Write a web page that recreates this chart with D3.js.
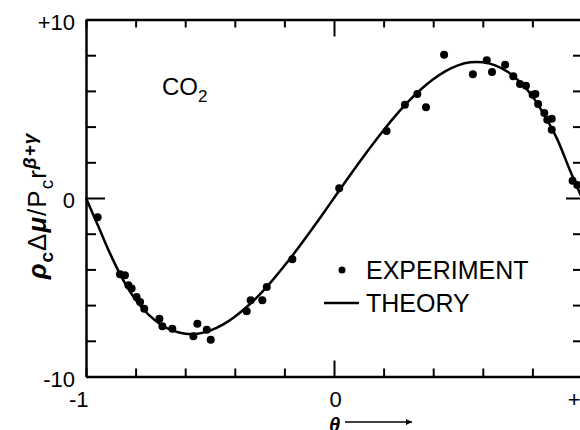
<!DOCTYPE html>
<meta charset="utf-8">
<style>
body { margin: 0; background: #fff; }
text { font-family: "Liberation Sans", Arial, sans-serif; fill: #000; }
.axis path, .axis line { stroke: #000; stroke-width: 2.5px; }
.axis line { stroke-width: 2px; }
.axis text { font-size: 22px; }
.theory { fill: none; stroke: #000; stroke-width: 2.5px; }
</style>
<svg width="580" height="430"></svg>
<script src="https://d3js.org/d3.v7.min.js"></script>
<script>
// experiment points (theta, value)
var expTheta = [-0.953, -0.863, -0.843, -0.829, -0.816, -0.796, -0.782, -0.765, -0.704, -0.692,
  -0.652, -0.567, -0.551, -0.513, -0.497, -0.352, -0.336, -0.289, -0.271, -0.168,
  0.021, 0.212, 0.286, 0.336, 0.371, 0.444, 0.560, 0.616, 0.637, 0.690,
  0.723, 0.750, 0.774, 0.801, 0.812, 0.823, 0.848, 0.860, 0.878, 0.878, 0.962, 0.981];
var expValue = [-1.08, -4.27, -4.33, -4.89, -5.07, -5.54, -5.82, -6.2, -6.76, -7.19,
  -7.32, -7.75, -7.04, -7.38, -7.94, -6.35, -5.73, -5.73, -4.98, -3.43,
  0.54, 3.76, 5.22, 5.83, 5.09, 8.03, 6.93, 7.72, 7.06, 7.47,
  6.82, 6.39, 6.29, 5.79, 5.83, 5.26, 4.76, 4.38, 4.44, 3.82, 0.97, 0.73];

// theory curve
var theoryTheta = [-1, -0.95, -0.9, -0.85, -0.8, -0.75, -0.7, -0.65, -0.6, -0.55, -0.5, -0.45, -0.4,
  -0.35, -0.3, -0.25, -0.2, -0.15, -0.1, -0.05, 0, 0.05, 0.1, 0.15, 0.2, 0.25, 0.3, 0.35, 0.4,
  0.45, 0.5, 0.55, 0.6, 0.65, 0.7, 0.75, 0.8, 0.85, 0.9, 0.95, 1];
var theoryValue = [0, -1.6, -3.2, -4.6, -5.7, -6.5, -7.07, -7.43, -7.6, -7.6, -7.43, -7.11, -6.65,
  -6.08, -5.41, -4.64, -3.8, -2.9, -1.96, -0.99, 0, 0.99, 1.96, 2.9, 3.8, 4.64, 5.41, 6.08, 6.65,
  7.11, 7.43, 7.6, 7.6, 7.43, 7.07, 6.5, 5.7, 4.6, 3.3, 1.6, 0];

var xTicks = [-1, -0.8, -0.6, -0.4, -0.2, 0, 0.2, 0.4, 0.6, 0.8, 1];
var xLabels = {"-1": "-1", "0": "0", "1": "+1"};
var yTicks = [-10, -8, -6, -4, -2, 0, 2, 4, 6, 8, 10];
var yLabels = {"-10": "-10", "0": "0", "10": "+10"};

var svg = d3.select("svg");
var x = d3.scaleLinear().domain([-1, 1]).range([86, 582]),
    y = d3.scaleLinear().domain([-10, 10]).range([376.5, 19.5]);

function fmt(map) { return function(d) { return map[String(d)] || ""; }; }
function longZero(g, len, attr) {
  g.selectAll(".tick").filter(function(d) { return d === 0; })
    .select("line").attr(attr, len);
}

var gb = svg.append("g").attr("class", "axis")
    .attr("transform", "translate(0," + y(-10) + ")")
    .call(d3.axisBottom(x).tickValues(xTicks).tickSizeInner(-8).tickSizeOuter(0)
      .tickPadding(14).tickFormat(fmt(xLabels)));
longZero(gb, -16, "y2");
gb.selectAll("text").attr("dy", "0.75em")
  .attr("dx", function(d) { return d < 0 ? "-0.35em" : (d > 0 ? "-0.1em" : "0.05em"); });

var gt = svg.append("g").attr("class", "axis")
    .attr("transform", "translate(0," + y(10) + ")")
    .call(d3.axisTop(x).tickValues(xTicks).tickSizeInner(-8).tickSizeOuter(0).tickFormat(""));
longZero(gt, 17, "y2");

var gl = svg.append("g").attr("class", "axis")
    .attr("transform", "translate(" + x(-1) + ",0)")
    .call(d3.axisLeft(y).tickValues(yTicks).tickSizeInner(-10).tickSizeOuter(0)
      .tickPadding(11).tickFormat(fmt(yLabels)));
longZero(gl, 19, "x2");
gl.selectAll("text").attr("dy", "0.45em");

var gr = svg.append("g").attr("class", "axis")
    .attr("transform", "translate(" + x(1) + ",0)")
    .call(d3.axisRight(y).tickValues(yTicks).tickSizeInner(-9).tickSizeOuter(0).tickFormat(""));
longZero(gr, -16, "x2");

svg.selectAll(".axis .domain").attr("stroke-width", 2.5);

// theory line
var line = d3.line()
    .curve(d3.curveCatmullRom)
    .x(function(d, i) { return x(theoryTheta[i]); })
    .y(function(d) { return y(d); });
svg.append("path").attr("class", "theory").attr("d", line(theoryValue));

// experiment dots
svg.selectAll(".dot")
  .data(expValue)
  .enter().append("circle")
    .attr("class", "dot")
    .attr("cx", function(d, i) { return x(expTheta[i]); })
    .attr("cy", function(d) { return y(d); })
    .attr("r", 4)
    .attr("fill", "#000");

// CO2 label
var co2 = svg.append("text").attr("x", 162).attr("y", 95).style("font-size", "24px");
co2.append("tspan").text("CO");
co2.append("tspan").attr("dy", 7).style("font-size", "17px").text("2");

// legend
var leg = svg.append("g");
leg.append("circle").attr("cx", 342).attr("cy", 270).attr("r", 3.5).attr("fill", "#000");
leg.append("text").attr("x", 366).attr("y", 279).style("font-size", "25px").text("EXPERIMENT");
leg.append("line").attr("x1", 324).attr("x2", 359).attr("y1", 303).attr("y2", 303)
  .attr("stroke", "#000").attr("stroke-width", 2.5);
leg.append("text").attr("x", 366).attr("y", 312).style("font-size", "25px").text("THEORY");

// y axis label
var yl = svg.append("text")
    .attr("transform", "translate(46,206) rotate(-90)")
    .attr("text-anchor", "middle")
    .style("font-size", "26px")
    .style("letter-spacing", "1px");
yl.append("tspan").style("font-weight", "bold").style("font-style", "italic").text("ρ");
yl.append("tspan").attr("dy", 7).style("font-size", "19px").style("font-weight", "bold").text("c");
yl.append("tspan").attr("dy", -7).text("Δ");
yl.append("tspan").style("font-weight", "bold").style("font-style", "italic").text("μ");
yl.append("tspan").text("/P");
yl.append("tspan").attr("dy", 7).style("font-size", "19px").text("c");
yl.append("tspan").attr("dy", -7).text("r");
yl.append("tspan").attr("dy", -10).style("font-size", "19px").style("font-style", "italic")
  .style("font-weight", "bold").text("β+γ");

// theta with arrow
svg.append("defs").append("marker")
    .attr("id", "arr").attr("viewBox", "0 0 10 10").attr("refX", 10).attr("refY", 5)
    .attr("markerWidth", 8).attr("markerHeight", 6).attr("orient", "auto")
    .attr("markerUnits", "userSpaceOnUse")
  .append("path").attr("d", "M0,0L10,5L0,10Z").attr("fill", "#000");
svg.append("text").attr("x", 329).attr("y", 432).style("font-size", "20px")
  .style("font-style", "italic").style("font-weight", "bold").text("θ");
svg.append("line").attr("x1", 345).attr("x2", 412).attr("y1", 422).attr("y2", 422)
  .attr("stroke", "#000").attr("stroke-width", 1.5).attr("marker-end", "url(#arr)");
</script>
